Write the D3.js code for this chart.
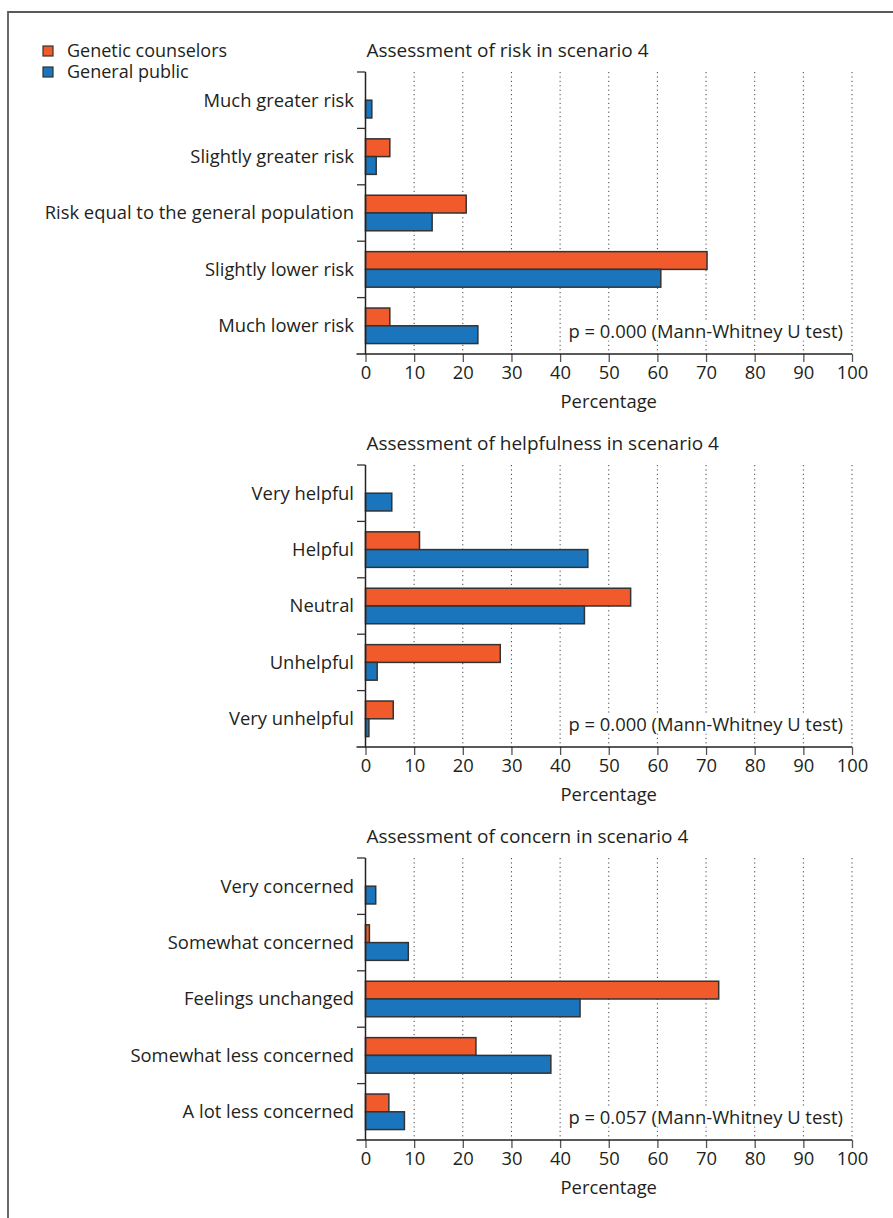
<!DOCTYPE html>
<html>
<head>
<meta charset="utf-8">
<script src="https://cdn.jsdelivr.net/npm/d3@7"></script>
<style>
  body { margin: 0; background: #fff; }
  svg { display: block; }
  text { font-family: "Open Sans", "Noto Sans", sans-serif; fill: #231f20; }
</style>
</head>
<body>
<svg id="chart" width="893" height="1218"></svg>
<script>
// ---------- data ----------
const seriesNames = ["Genetic counselors", "General public"];
const seriesColors = ["#f15a2b", "#1b75bc"];

const titles = [
  "Assessment of risk in scenario 4",
  "Assessment of helpfulness in scenario 4",
  "Assessment of concern in scenario 4"
];

const riskCategories = ["Much greater risk", "Slightly greater risk", "Risk equal to the general population", "Slightly lower risk", "Much lower risk"];
const riskCounselors = [0, 5.0, 20.7, 70.2, 5.0];
const riskPublic = [1.3, 2.2, 13.7, 60.7, 23.1];

const helpCategories = ["Very helpful", "Helpful", "Neutral", "Unhelpful", "Very unhelpful"];
const helpCounselors = [0, 11.1, 54.5, 27.7, 5.7];
const helpPublic = [5.4, 45.7, 45.0, 2.4, 0.7];

const concernCategories = ["Very concerned", "Somewhat concerned", "Feelings unchanged", "Somewhat less concerned", "A lot less concerned"];
const concernCounselors = [0, 0.8, 72.6, 22.7, 4.8];
const concernPublic = [2.1, 8.8, 44.1, 38.1, 8.0];

const pValues = ["p = 0.000 (Mann-Whitney U test)", "p = 0.000 (Mann-Whitney U test)", "p = 0.057 (Mann-Whitney U test)"];

const xTicks = [0, 10, 20, 30, 40, 50, 60, 70, 80, 90, 100];
const xLabel = "Percentage";

// ---------- layout ----------
const svg = d3.select("#chart");
const panels = [
  { cats: riskCategories, vals: [riskCounselors, riskPublic] },
  { cats: helpCategories, vals: [helpCounselors, helpPublic] },
  { cats: concernCategories, vals: [concernCounselors, concernPublic] }
];

const x0 = 365.5, x1 = 852;
const panelTop0 = 72, panelGap = 393, panelH = 282;
const fontSize = 18.4;
const titleSize = 19;
const fontStack = "\"Open Sans\", \"Noto Sans\", sans-serif";

// border (cut off on right and bottom)
svg.append("path")
  .attr("d", "M8,1218 L8,12 L893,12")
  .attr("fill", "none").attr("stroke", "#5a5a5a").attr("stroke-width", 1.8);

// legend
const legend = svg.append("g").attr("transform", "translate(43,46)");
seriesNames.forEach((name, i) => {
  const g = legend.append("g").attr("transform", `translate(0,${i * 21})`);
  g.append("rect").attr("width", 10).attr("height", 10)
    .attr("fill", seriesColors[i]).attr("stroke", "#333").attr("stroke-width", 1.2);
  g.append("text").attr("x", 24).attr("y", 11)
    .attr("font-size", 18).text(name);
});

const x = d3.scaleLinear().domain([0, 100]).range([x0, x1]);

panels.forEach((p, pi) => {
  const top = panelTop0 + pi * panelGap;
  const bottom = top + panelH;
  const g = svg.append("g");

  const y = d3.scaleBand().domain(p.cats).range([top, bottom]).padding(0);
  const ySub = d3.scaleBand().domain([0, 1])
    .range([y.bandwidth() * 0.185, y.bandwidth() * 0.815]).padding(0);

  // title
  g.append("text").attr("x", x0 + 1).attr("y", top - 15)
    .attr("font-size", titleSize).text(titles[pi]);

  // gridlines
  g.append("g").selectAll("line").data(xTicks.filter(t => t > 0)).join("line")
    .attr("x1", d => x(d)).attr("x2", d => x(d))
    .attr("y1", top).attr("y2", bottom)
    .attr("stroke", "#444").attr("stroke-width", 1)
    .attr("stroke-dasharray", "1.2,3.2");

  // bars
  const rows = [];
  p.cats.forEach((c, ci) => {
    p.vals.forEach((vals, si) => {
      if (vals[ci] > 0) rows.push({ c, si, v: vals[ci] });
    });
  });
  g.append("g").selectAll("rect").data(rows).join("rect")
    .attr("x", x(0))
    .attr("y", d => y(d.c) + ySub(d.si))
    .attr("width", d => x(d.v) - x(0))
    .attr("height", ySub.bandwidth())
    .attr("fill", d => seriesColors[d.si])
    .attr("stroke", "#333").attr("stroke-width", 1.5);

  // p value with white backing so gridlines stop at the text
  const pg = g.append("g");
  const pt = pg.append("text").attr("x", 843).attr("y", bottom - 22).attr("dy", "0.35em")
    .attr("text-anchor", "end").attr("font-size", fontSize).text(pValues[pi]);
  const bb = pt.node().getBBox();
  pg.insert("rect", () => pt.node())
    .attr("x", bb.x - 1).attr("y", bb.y + 3).attr("width", bb.width + 2).attr("height", bb.height - 6)
    .attr("fill", "#fff");

  // y axis
  const yAxisG = g.append("g");
  yAxisG.append("line").attr("x1", x0).attr("x2", x0).attr("y1", top).attr("y2", bottom)
    .attr("stroke", "#222").attr("stroke-width", 1.5);
  const boundaries = p.cats.map(c => y(c));
  yAxisG.selectAll("line.tk").data(boundaries).join("line").attr("class", "tk")
    .attr("x1", x0 - 8.5).attr("x2", x0).attr("y1", d => d).attr("y2", d => d)
    .attr("stroke", "#333").attr("stroke-width", 1.3);
  yAxisG.selectAll("text").data(p.cats).join("text")
    .attr("x", 354).attr("y", d => y(d) + y.bandwidth() / 2)
    .attr("dy", "0.35em").attr("text-anchor", "end")
    .attr("font-size", fontSize).text(d => d);

  // x axis
  const xAxis = d3.axisBottom(x).tickValues(xTicks).tickSize(8).tickPadding(4).tickSizeOuter(0);
  const xg = g.append("g").attr("transform", `translate(0,${bottom})`).call(xAxis);
  xg.select(".domain").remove();
  xg.append("line").attr("x1", x0 - 9).attr("x2", x1).attr("y1", 0).attr("y2", 0)
    .attr("stroke", "#222").attr("stroke-width", 1.5);
  xg.selectAll(".tick line").attr("stroke", "#555").attr("stroke-width", 1.3);
  xg.selectAll(".tick text").attr("font-size", fontSize)
    .attr("font-family", fontStack).attr("fill", "#231f20");
  xg.append("text").attr("x", (x0 + x1) / 2).attr("y", 48).attr("dy", "0.35em")
    .attr("text-anchor", "middle").attr("font-size", fontSize)
    .attr("font-family", fontStack).attr("fill", "#231f20").text(xLabel);
});
</script>
</body>
</html>
